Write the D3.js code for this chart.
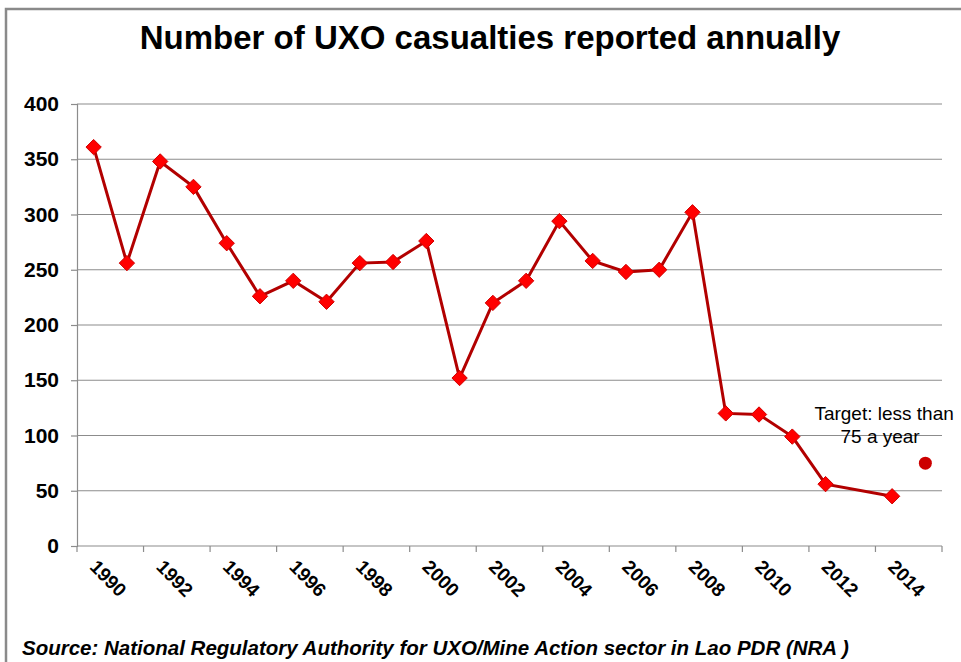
<!DOCTYPE html>
<html>
<head>
<meta charset="utf-8">
<script src="https://cdn.jsdelivr.net/npm/d3@7"></script>
<style>
  body { margin: 0; background: #fff; }
  text { font-family: "Liberation Sans", Arial, sans-serif; }
</style>
</head>
<body>
<div id="chart"></div>
<script>
// data
var years = [1990,1991,1992,1993,1994,1995,1996,1997,1998,1999,2000,2001,2002,2003,2004,2005,2006,2007,2008,2009,2010,2011,2012,2014];
var casualties = [361,256,348,325,274,226,240,221,256,257,276,152,220,240,294,258,248,250,302,120,119,99,56,45];
var targetYear = 2015, targetValue = 75;
var categories = d3.range(1990, 2016);   // category axis 1990..2015
var tickLabels = [1990,1992,1994,1996,1998,2000,2002,2004,2006,2008,2010,2012,2014];
var yTicks = [0,50,100,150,200,250,300,350,400];

var W = 961, H = 662;
var margin = {top: 104, right: 19, bottom: 116, left: 77},
    width = W - margin.left - margin.right,
    height = H - margin.top - margin.bottom;

var svg = d3.select("#chart").append("svg")
    .attr("width", W).attr("height", H);

// outer frame (cut at right / bottom like the screenshot)
svg.append("rect")
    .attr("x", 6).attr("y", 9)
    .attr("width", W + 10).attr("height", H + 10)
    .attr("fill", "none").attr("stroke", "#8a8a8a").attr("stroke-width", 2.5);

svg.append("text")
    .attr("x", 490).attr("y", 49)
    .attr("text-anchor", "middle")
    .attr("font-size", 33).attr("font-weight", "bold")
    .text("Number of UXO casualties reported annually");

var g = svg.append("g").attr("transform", "translate(" + margin.left + "," + margin.top + ")");

var x = d3.scaleBand().domain(categories).range([0, width]);
var y = d3.scaleLinear().domain([0, 400]).range([height, 0]);

// gridlines
g.selectAll(".grid").data(yTicks.slice(1)).enter().append("line")
    .attr("x1", 0).attr("x2", width)
    .attr("y1", function(d){ return y(d); }).attr("y2", function(d){ return y(d); })
    .attr("stroke", "#8c8c8c").attr("stroke-width", 1.2);

// y axis
var yAxis = g.append("g")
    .call(d3.axisLeft(y).tickValues(yTicks).tickSize(6).tickPadding(12));
yAxis.select(".domain").attr("stroke", "#8c8c8c").attr("stroke-width", 1.2);
yAxis.selectAll(".tick line").attr("stroke", "#8c8c8c").attr("stroke-width", 1.2);
yAxis.selectAll("text").attr("font-size", 21).attr("font-weight", "bold")
    .attr("fill", "#000").attr("font-family", "Liberation Sans, Arial, sans-serif");

// x axis: ticks on category boundaries every 2 years
var xb = g.append("g").attr("transform", "translate(0," + height + ")");
xb.append("line").attr("x1", 0).attr("x2", width)
    .attr("stroke", "#8c8c8c").attr("stroke-width", 1.2);
xb.selectAll(".xt").data(d3.range(0, categories.length + 1, 2)).enter().append("line")
    .attr("x1", function(i){ return i * x.bandwidth(); })
    .attr("x2", function(i){ return i * x.bandwidth(); })
    .attr("y1", 0).attr("y2", 6)
    .attr("stroke", "#8c8c8c").attr("stroke-width", 1.2);
xb.selectAll(".xl").data(tickLabels).enter().append("text")
    .attr("transform", function(d){
        return "translate(" + (x(d) + x.bandwidth() / 2 - 5) + ",22) rotate(45)";
    })
    .attr("font-size", 19).attr("font-weight", "bold")
    .attr("text-anchor", "start")
    .text(function(d){ return d; });

var cx = function(yr){ return x(yr) + x.bandwidth() / 2; };

var line = d3.line()
    .x(function(d, i){ return cx(years[i]); })
    .y(function(d){ return y(d); });

g.append("path").datum(casualties)
    .attr("d", line)
    .attr("fill", "none").attr("stroke", "#b20000").attr("stroke-width", 3);

var diamond = d3.symbol().type(d3.symbolDiamond2).size(150);
g.selectAll(".pt").data(casualties).enter().append("path")
    .attr("d", diamond)
    .attr("transform", function(d, i){ return "translate(" + cx(years[i]) + "," + y(d) + ")"; })
    .attr("fill", "#ff0000").attr("stroke", "#d00000").attr("stroke-width", 1);

// target
g.append("circle")
    .attr("cx", cx(targetYear)).attr("cy", y(targetValue)).attr("r", 6.5)
    .attr("fill", "#cc0000");

var ann = g.append("text").attr("font-size", 19).attr("text-anchor", "middle");
ann.append("tspan").attr("x", cx(2014) - 8).attr("y", y(100) - 16).text("Target: less than");
ann.append("tspan").attr("x", cx(2014) - 12).attr("y", y(100) + 7).text("75 a year");

svg.append("text")
    .attr("x", 22).attr("y", 655)
    .attr("font-size", 20.5).attr("font-weight", "bold").attr("font-style", "italic")
    .text("Source: National Regulatory Authority for UXO/Mine Action sector in Lao PDR (NRA )");
</script>
</body>
</html>
